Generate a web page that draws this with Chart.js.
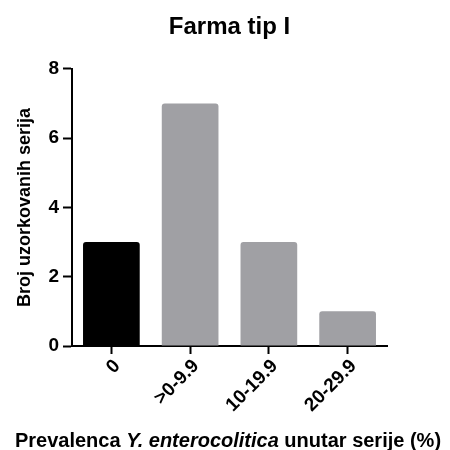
<!DOCTYPE html>
<html>
<head>
<meta charset="utf-8">
<script src="https://cdn.jsdelivr.net/npm/chart.js@4"></script>
<style>
  html, body { margin: 0; padding: 0; background: #ffffff; }
  #wrap { width: 450px; height: 450px; }
</style>
</head>
<body>
<div id="wrap"><canvas id="chart" width="450" height="450"></canvas></div>
<script>
// Prevalence classes and number of sampled batches per class
const categories = ['0', '>0-9.9', '10-19.9', '20-29.9'];
const batchCounts = [3, 7, 3, 1];
const barColors = ['#000000', '#a0a0a4', '#a0a0a4', '#a0a0a4'];
const yTicks = [0, 2, 4, 6, 8];

const chartTitle = 'Farma tip I';
const yTitle = 'Broj uzorkovanih serija';
// x-axis title pieces: [text, italic?]
const xTitleParts = [
  ['Prevalenca ', false],
  ['Y. enterocolitica', true],
  [' unutar serije (%)', false]
];

const FONT = '"Liberation Sans", Arial, sans-serif';

// Draws the x-axis title with the species name in italics
const xTitlePlugin = {
  id: 'xTitleMixed',
  afterDraw(chart) {
    const ctx = chart.ctx;
    const size = 20;
    const fonts = xTitleParts.map(p => (p[1] ? 'italic ' : '') + 'bold ' + size + 'px ' + FONT);
    ctx.save();
    let total = 0;
    const widths = xTitleParts.map((p, i) => {
      ctx.font = fonts[i];
      const w = ctx.measureText(p[0]).width;
      total += w;
      return w;
    });
    let x = 228 - total / 2;
    const y = 447;
    ctx.fillStyle = '#000000';
    ctx.textBaseline = 'alphabetic';
    ctx.textAlign = 'left';
    xTitleParts.forEach((p, i) => {
      ctx.font = fonts[i];
      ctx.fillText(p[0], x, y);
      x += widths[i];
    });
    ctx.restore();
  }
};

new Chart(document.getElementById('chart'), {
  type: 'bar',
  data: {
    labels: categories,
    datasets: [{
      data: batchCounts,
      backgroundColor: barColors,
      borderWidth: 0,
      borderRadius: 3,
      barPercentage: 0.72,
      categoryPercentage: 1.0
    }]
  },
  options: {
    responsive: false,
    animation: false,
    layout: { padding: { left: 0, right: 63, top: 0, bottom: 0 } },
    plugins: {
      legend: { display: false },
      tooltip: { enabled: false },
      title: {
        display: true,
        text: chartTitle,
        fullSize: false,
        color: '#000000',
        font: { family: FONT, size: 24, weight: 'bold' },
        padding: { top: 13, bottom: 27 }
      }
    },
    scales: {
      x: {
        offset: true,
        afterFit(scale) { scale.height = 104; },
        border: { display: true, color: '#000000', width: 2 },
        grid: {
          display: true,
          offset: false,
          drawOnChartArea: false,
          drawTicks: true,
          tickLength: 8,
          tickWidth: 2,
          tickColor: '#000000',
          color: '#000000'
        },
        ticks: {
          color: '#000000',
          font: { family: FONT, size: 19, weight: 'bold' },
          minRotation: 45,
          maxRotation: 45,
          labelOffset: 6,
          padding: 1
        }
      },
      y: {
        min: 0,
        max: 8,
        afterFit(scale) { scale.width = 72; },
        afterBuildTicks(scale) { scale.ticks = yTicks.map(v => ({ value: v })); },
        border: { display: true, color: '#000000', width: 2 },
        grid: {
          display: true,
          drawOnChartArea: false,
          drawTicks: true,
          tickLength: 9,
          tickWidth: 2,
          tickColor: '#000000',
          color: '#000000'
        },
        ticks: {
          color: '#000000',
          font: { family: FONT, size: 19, weight: 'bold' },
          padding: 4
        },
        title: {
          display: true,
          text: yTitle,
          color: '#000000',
          font: { family: FONT, size: 18, weight: 'bold' },
          padding: { top: 14, bottom: 0 }
        }
      }
    }
  },
  plugins: [xTitlePlugin]
});
</script>
</body>
</html>
